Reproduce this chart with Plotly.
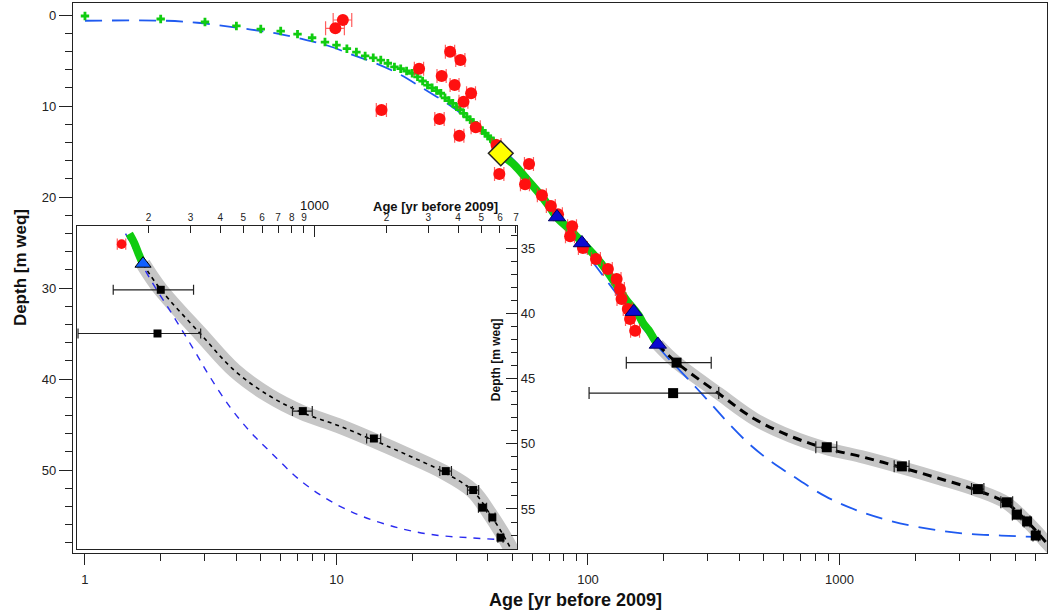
import numpy as np
import plotly.graph_objects as go

# ---------------- data (age in yr before 2009, depth in m weq) ----------------
# annual layer counting (green crosses)
green_age = [1, 2, 3, 4, 5, 6, 7, 8, 9, 10, 11, 12, 13, 14, 15, 16, 17, 18, 19, 20, 21,
             22, 23, 24, 25, 26, 27, 28, 29, 30, 31, 32, 33, 34, 35, 36, 37, 38, 39, 40, 41, 42]
green_depth = [0.11, 0.44, 0.77, 1.2, 1.54, 1.76, 2.1, 2.5, 2.97, 3.3, 3.7, 4.07, 4.5, 4.7, 4.95,
               5.3, 5.7, 5.9, 6.15, 6.4, 6.8, 7.25, 7.7, 8.0, 8.3, 8.6, 9.1, 9.4, 9.7, 10.1, 10.4,
               10.8, 11.2, 11.5, 11.8, 12.1, 12.4, 12.7, 13.0, 13.3, 13.6, 13.8]
# dense part of the annual layer counting (continuous band)
band_age = [42, 45, 51, 57, 64, 70, 75, 84, 95, 106, 118, 129, 141, 159, 166, 174, 182, 190]
band_depth = [13.8, 15.2, 16.5, 18.0, 19.6, 21.0, 22.2, 23.5, 25.0, 26.4, 28.0, 29.6, 31.2,
              33.0, 33.9, 34.6, 35.5, 36.3]

# red points with small age error bars
red_age = [10.6, 9.9, 28.3, 31.1, 21.3, 26.2, 29.5, 34.3, 32.0, 15.1, 25.7, 35.8, 30.8, 43.3,
           58.3, 44.4, 56.2, 65.6, 71.2, 76.0, 86.5, 84.9, 95.5, 107.6, 120, 130, 134, 136,
           144, 147, 154]
red_depth = [0.55, 1.46, 4.03, 4.95, 5.9, 6.7, 7.7, 8.6, 9.53, 10.44, 11.43, 12.34, 13.26, 14.29,
             16.37, 17.47, 18.6, 19.8, 21.0, 21.9, 23.2, 24.3, 25.6, 26.8, 27.9, 29.0, 30.1,
             31.2, 32.3, 33.4, 34.7]
red_err = [0.9, 0.85, 1.2, 1.3, 0.9, 1.1, 1.2, 1.4, 1.3, 0.7, 1.1, 1.5, 1.3, 1.8, 2.4, 1.9,
           2.3, 2.7, 2.9, 3.1, 3.5, 3.5, 3.9, 4.4, 4.9, 5.3, 5.5, 5.6, 5.9, 6.0, 6.3]

# blue triangles
tri_age = [75.3, 94.6, 152, 189.5]
tri_depth = [22.2, 25.05, 32.6, 36.2]

# yellow diamond
dia_age = [45]
dia_depth = [15.2]

# black squares (dated horizons)
sq_age = [225, 218, 890, 1770, 3550, 4630, 5070, 5570, 6030]
sq_depth = [38.2, 41.55, 47.5, 49.6, 52.1, 53.55, 54.9, 55.65, 57.2]
sq_err_minus = [83, 117, 85, 120, 200, 250, 200, 150, 150]
sq_err_plus = [84, 113, 85, 120, 200, 250, 200, 150, 150]

# black dashed fit (with grey uncertainty band)
fit_age = [189.5, 223, 331, 460, 640, 880, 1250, 1750, 2470, 3500, 4600, 5450, 6100, 6700, 7200]
fit_depth = [36.2, 38.1, 41.6, 44.4, 46.3, 47.6, 48.6, 49.7, 50.9, 52.2, 53.6, 55.4, 56.8, 58.1, 59.0]

# blue dashed model curve
mod_age = [1, 2.1, 2.8, 3.8, 5.7, 7.2, 9.2, 11.4, 14.3, 17.8, 21.9, 26.8, 33, 39, 53, 76, 121,
           160, 205, 252, 310, 360, 440, 530, 647, 880, 1190, 1600, 2300, 3200, 4400, 6000]
mod_depth = [0.63, 0.63, 0.85, 1.3, 2.0, 2.6, 3.35, 4.3, 5.3, 6.5, 8.0, 9.5, 11.3, 13.0, 16.5,
             22.0, 29.5, 33.9, 37.5, 40.1, 42.8, 44.8, 47.2, 49.0, 50.6, 52.9, 54.5, 55.6,
             56.5, 57.0, 57.2, 57.35]

main_xticks = [1, 10, 100, 1000]
main_xticktext = ['1', '10', '100', '1000']
inset_xticks = [200, 300, 400, 500, 600, 700, 800, 900, 1000, 2000, 3000, 4000, 5000, 6000, 7000]
inset_xticktext = ['2', '3', '4', '5', '6', '7', '8', '9', '', '2', '3', '4', '5', '6', '7']

# ---------------- figure ----------------
fig = go.Figure()

INSET_X = (100, 7080)
INSET_Y = (33.8, 58.1)


def in_inset(ax, dy):
    ax = np.asarray(ax, float)
    dy = np.asarray(dy, float)
    return (ax >= INSET_X[0]) & (ax <= INSET_X[1]) & (dy >= INSET_Y[0]) & (dy <= INSET_Y[1])


def add_all(xa, ya, inset):
    s = 0.8 if inset else 1.0
    # grey band
    fig.add_trace(go.Scatter(x=fit_age, y=fit_depth, mode='lines', line_shape='spline',
                             line=dict(color='#c6c6c6', width=15 if inset else 13),
                             xaxis=xa, yaxis=ya, hoverinfo='skip'))
    # blue dashed model
    mx = np.array(mod_age); my = np.array(mod_depth)
    if inset:
        m = my >= INSET_Y[0]
        mx, my = mx[m], my[m]
    fig.add_trace(go.Scatter(x=mx, y=my, mode='lines', line_shape='spline',
                             line=dict(color='#2b2bf0' if inset else '#1f5af0',
                                       width=1.4 if inset else 1.8,
                                       dash='7px,7px' if inset else '17px,10px'),
                             xaxis=xa, yaxis=ya, hoverinfo='skip'))
    # black dashed fit
    fig.add_trace(go.Scatter(x=fit_age, y=fit_depth, mode='lines', line_shape='spline',
                             line=dict(color='black', width=1.6 if inset else 3,
                                       dash='4px,4px' if inset else '9px,6px'),
                             xaxis=xa, yaxis=ya, hoverinfo='skip'))
    # green band + crosses
    bx = np.array(band_age); by = np.array(band_depth)
    if inset:
        m = by >= INSET_Y[0]
        bx, by = bx[m], by[m]
    fig.add_trace(go.Scatter(x=bx, y=by, mode='lines', line_shape='spline',
                             line=dict(color='#10cc10', width=8),
                             xaxis=xa, yaxis=ya, hoverinfo='skip'))
    if not inset:
        fig.add_trace(go.Scatter(x=green_age, y=green_depth, mode='markers',
                                 marker=dict(symbol='cross', size=7, color='#10cc10',
                                             line=dict(width=0)),
                                 xaxis=xa, yaxis=ya, hoverinfo='skip'))
    # red points
    rx = np.array(red_age); ry = np.array(red_depth); re = np.array(red_err)
    if inset:
        m = in_inset(rx, ry); rx, ry, re = rx[m], ry[m], re[m]
    fig.add_trace(go.Scatter(x=rx, y=ry, mode='markers',
                             marker=dict(symbol='circle', size=12 * s, color='#ff1010',
                                         line=dict(width=0)),
                             error_x=dict(type='data', array=re, color='rgba(255,40,40,0.75)',
                                          thickness=1.2, width=7 * s),
                             xaxis=xa, yaxis=ya, hoverinfo='skip'))
    # yellow diamond
    if not inset:
        fig.add_trace(go.Scatter(x=dia_age, y=dia_depth, mode='markers',
                                 marker=dict(symbol='diamond', size=19, color='#ffff00',
                                             line=dict(width=1.5, color='#222')),
                                 xaxis=xa, yaxis=ya, hoverinfo='skip'))
    # blue triangles
    tx = np.array(tri_age); ty = np.array(tri_depth)
    if inset:
        m = in_inset(tx, ty); tx, ty = tx[m], ty[m]
    fig.add_trace(go.Scatter(x=tx, y=ty, mode='markers',
                             marker=dict(symbol='triangle-up', size=15 if not inset else 14,
                                         color='#1060ff' if inset else '#0a0ad0',
                                         line=dict(width=1, color='#000066' if not inset else 'black')),
                             xaxis=xa, yaxis=ya, hoverinfo='skip'))
    # black squares
    fig.add_trace(go.Scatter(x=sq_age, y=sq_depth, mode='markers',
                             marker=dict(symbol='square', size=10 if not inset else 8, color='black'),
                             error_x=dict(type='data', symmetric=False, array=sq_err_plus,
                                          arrayminus=sq_err_minus, color='#222',
                                          thickness=1.2, width=6 if not inset else 5),
                             xaxis=xa, yaxis=ya, hoverinfo='skip'))


add_all('x', 'y', False)
add_all('x2', 'y2', True)

narrow = 'Liberation Sans Narrow, Arial Narrow, Liberation Sans, Arial, sans-serif'
sans = 'Liberation Sans, Arial, Helvetica, sans-serif'

L, R, T, B = 73, 1049, 3, 553
W, H = 1051, 614


def px(xp):
    return (xp - L) / (R - L)


def py(yp):
    return (B - yp) / (B - T)


fig.update_layout(
    width=W, height=H,
    margin=dict(l=L, r=W - R, t=T, b=H - B),
    paper_bgcolor='white', plot_bgcolor='white', showlegend=False,
    xaxis=dict(type='log', range=[-0.0476, 3.825], domain=[0, 1], anchor='y',
               showline=True, linecolor='#222', linewidth=1.3, mirror=True,
               showgrid=False, zeroline=False,
               tickmode='array', tickvals=main_xticks, ticktext=main_xticktext,
               ticks='outside', ticklen=11, tickcolor='#222', tickwidth=1.2,
               ticklabelstandoff=3,
               tickfont=dict(family=narrow, size=13, color='#222'),
               minor=dict(tickmode='array',
                          tickvals=[2, 3, 4, 5, 6, 7, 8, 9, 20, 30, 40, 50, 60, 70, 80, 90,
                                    200, 300, 400, 500, 600, 700, 800, 900,
                                    2000, 3000, 4000, 5000, 6000],
                          ticks='outside', ticklen=7, tickcolor='#222', tickwidth=1.1,
                          showgrid=False)),
    yaxis=dict(range=[59.12, -1.32], domain=[0, 1], anchor='x',
               showline=True, linecolor='#222', linewidth=1.3, mirror=True,
               showgrid=False, zeroline=False,
               tickmode='array', tickvals=[0, 10, 20, 30, 40, 50],
               ticks='outside', ticklen=13, tickcolor='#222', tickwidth=1.2,
               tickfont=dict(family=sans, size=13, color='#222'),
               minor=dict(dtick=2, tick0=0, ticks='outside', ticklen=7,
                          tickcolor='#222', tickwidth=1.1, showgrid=False)),
    xaxis2=dict(type='log', range=[2.0, 3.85], domain=[px(77), px(518)], anchor='y2',
                side='top', showline=True, linecolor='#222', linewidth=1.3, mirror=True,
                showgrid=False, zeroline=False,
                tickmode='array', tickvals=inset_xticks, ticktext=inset_xticktext,
                ticks='inside', ticklen=7, tickcolor='#222', tickwidth=1.1,
                ticklabelstandoff=0,
                tickfont=dict(family=sans, size=10, color='#222'),
                minor=dict(tickmode='array', tickvals=[1000], ticks='inside', ticklen=11,
                           tickcolor='#222', tickwidth=1.2, showgrid=False)),
    yaxis2=dict(range=[58.07, 33.31], domain=[py(549), py(226)], anchor='x2',
                side='right', showline=True, linecolor='#222', linewidth=1.3, mirror=True,
                showgrid=False, zeroline=False,
                tickmode='array', tickvals=[35, 40, 45, 50, 55],
                ticks='inside', ticklen=11, tickcolor='#222', tickwidth=1.2,
                tickfont=dict(family=sans, size=13, color='#222'),
                minor=dict(dtick=1, tick0=0, ticks='inside', ticklen=6,
                           tickcolor='#222', tickwidth=1.1, showgrid=False)),
)

annotations = [
    dict(text='<b>Age [yr before 2009]</b>', xref='paper', yref='paper',
         x=px(577), y=py(600), xanchor='center', yanchor='middle', showarrow=False,
         font=dict(family=narrow, size=18, color='#111')),
    dict(text='<b>Depth [m weq]</b>', xref='paper', yref='paper',
         x=px(20), y=py(268), xanchor='center', yanchor='middle', showarrow=False,
         textangle=-90, font=dict(family=sans, size=17, color='#111')),
    dict(text='<b>Age [yr before 2009]</b>', xref='paper', yref='paper',
         x=px(436), y=py(206), xanchor='center', yanchor='middle', showarrow=False,
         font=dict(family=sans, size=13, color='#111')),
    dict(text='1000', xref='x2', yref='paper',
         x=3, y=py(205), xanchor='center', yanchor='middle', showarrow=False,
         font=dict(family=sans, size=13, color='#111')),
    dict(text='<b>Depth [m weq]</b>', xref='paper', yref='paper',
         x=px(497), y=py(360), xanchor='center', yanchor='middle', showarrow=False,
         textangle=-90, font=dict(family=sans, size=12, color='#111')),
]
fig.update_layout(annotations=annotations)

fig.write_html('out.html')
